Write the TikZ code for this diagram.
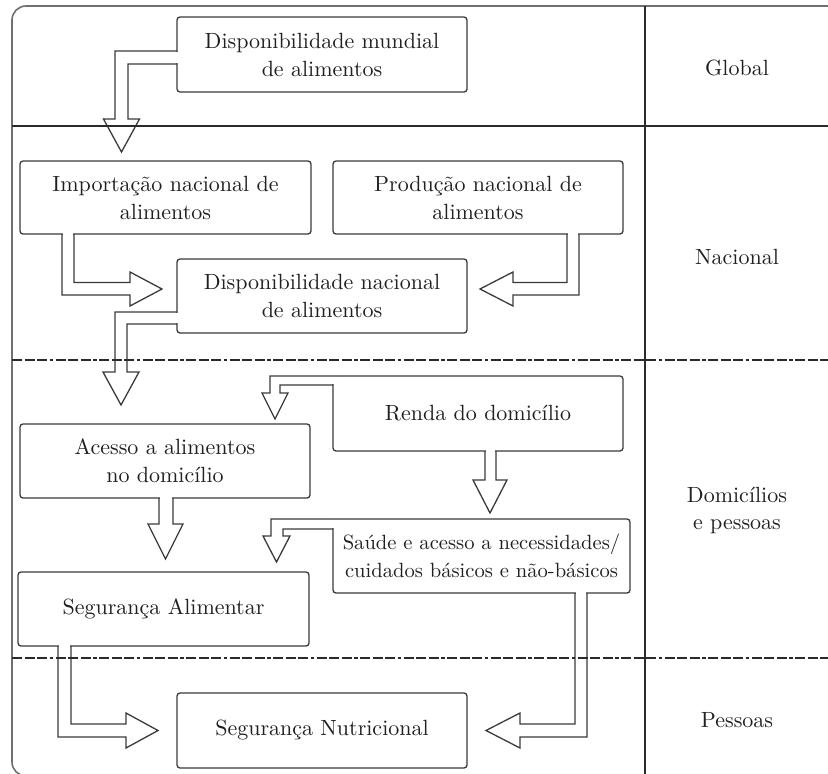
\documentclass[tikz,border=0pt]{standalone}
\usepackage{fontspec}
\setmainfont{lmroman10-regular.otf}
\usetikzlibrary{calc}
\definecolor{boxc}{HTML}{3A3A3A}
\definecolor{txt}{HTML}{202020}
\definecolor{linec}{HTML}{2A2A2A}
\definecolor{framec}{HTML}{707070}
\begin{document}
\begin{tikzpicture}[x=1pt,y=-1pt,
  box/.style={draw=boxc, line width=1.3pt, rounded corners=3pt, fill=white, inner sep=0pt, outer sep=0pt, align=center, text=txt, font=\fontsize{22}{28}\selectfont},
  lbl/.style={text=txt, align=center, font=\fontsize{22}{27}\selectfont},
  pipe/.style={draw=boxc, line width=1.3pt, line join=miter},
  gap/.style={draw=white, line width=2.6pt},
  sect/.style={draw=linec, line width=1.8pt},
  dd/.style={sect, dash pattern=on 10pt off 2.5pt on 10pt off 2.5pt on 10pt off 2.5pt on 3.5pt off 2.5pt}
]
\useasboundingbox (0,0) rectangle (828,774);

% boxes
\node[box, minimum width=290pt, minimum height=75pt] (mund) at (322,54.5) {Disponibilidade mundial\\de alimentos};
\node[box, minimum width=291pt, minimum height=73pt] (imp) at (165.5,197.5) {Importação nacional de\\alimentos};
\node[box, minimum width=290pt, minimum height=73pt] (prod) at (478,197.5) {Produção nacional de\\alimentos};
\node[box, minimum width=290pt, minimum height=74pt] (dnac) at (322,296) {Disponibilidade nacional\\de alimentos};
\node[box, minimum width=290pt, minimum height=75pt] (renda) at (478,413.5) {Renda do domicílio};
\node[box, minimum width=290pt, minimum height=74pt] (acesso) at (165,461) {Acesso a alimentos\\no domicílio};
\node[box, minimum width=297pt, minimum height=74pt, font=\fontsize{20.6}{28}\selectfont] (saude) at (481.5,556) {Saúde e acesso a necessidades/\\cuidados básicos e não-básicos};
\node[box, minimum width=291pt, minimum height=74pt] (sa) at (163.5,609) {Segurança Alimentar};
\node[box, minimum width=290pt, minimum height=75pt] (sn) at (322,730.5) {Segurança Nutricional};

% right labels
\node[lbl] (lglobal) at (737,68) {Global};
\node[lbl] (lnac) at (737,257) {Nacional};
\node[lbl] (ldom) at (737,510) {Domicílios\\e pessoas};
\node[lbl] (lpes) at (737,720) {Pessoas};

% A1 mund -> imp
\draw[gap] (177,52.3) -- (177,62.7);
\draw[pipe] (177,51) -- (115,51) -- (115,119) -- (103.5,119) -- (121.5,152) -- (139.5,119) -- (128,119) -- (128,64) -- (177,64);

% A2 imp -> dnac
\draw[gap] (63.3,234) -- (72.7,234);
\draw[pipe] (74,234) -- (74,282.5) -- (130,282.5) -- (130,272) -- (162,289) -- (130,306) -- (130,295) -- (62,295) -- (62,234);

% A3 prod -> dnac
\draw[gap] (568.3,234) -- (577.7,234);
\draw[pipe] (567,234) -- (567,282.5) -- (513,282.5) -- (513,272) -- (480,289) -- (513,306) -- (513,295) -- (579,295) -- (579,234);

% A4 dnac -> acesso
\draw[gap] (177,313.3) -- (177,322.7);
\draw[pipe] (177,312) -- (115,312) -- (115,372) -- (103,372) -- (121,405) -- (139,372) -- (127,372) -- (127,324) -- (177,324);

% A5 renda -> acesso
\fill[white] (331.5,374.8) rectangle (338.5,384.2);
\draw[pipe] (339,376) -- (270,376) -- (270,393) -- (262,393) -- (275,419) -- (288,393) -- (280,393) -- (280,385) -- (333,385);

% A6 renda -> saude
\draw[gap] (486.3,451) -- (494.7,451);
\draw[pipe] (485,451) -- (485,480) -- (473,480) -- (490,513) -- (507,480) -- (496,480) -- (496,451);

% A7 saude -> sa
\fill[white] (331.5,517.8) rectangle (338.5,528.2);
\draw[pipe] (339,519) -- (271,519) -- (271,536) -- (263,536) -- (276.5,562) -- (290,536) -- (283,536) -- (283,529) -- (333,529);

% A8 acesso -> sa
\draw[gap] (160.3,498) -- (171.7,498);
\draw[pipe] (159,498) -- (159,524) -- (148,524) -- (165.5,559) -- (183,524) -- (173,524) -- (173,498);

% A9 sa -> sn
\draw[gap] (59.3,646) -- (69.7,646);
\draw[pipe] (71,646) -- (71,724) -- (126,724) -- (126,713) -- (158,730.5) -- (126,748) -- (126,737) -- (58,737) -- (58,646);

% A10 saude -> sn
\draw[gap] (576.3,593) -- (585.7,593);
\draw[pipe] (575,593) -- (575,724) -- (520,724) -- (520,713) -- (486,730.5) -- (520,748) -- (520,737) -- (587,737) -- (587,593);

% frame and section lines
\draw[draw=framec, line width=1.6pt, rounded corners=14pt] (829,6) -- (12,6) -- (12,776) -- (829,776);
\draw[sect] (12,126) -- (828,126);
\draw[sect] (645,6) -- (645,774);
\draw[dd] (12,360) -- (828,360);
\draw[dd] (12,658) -- (828,658);
\end{tikzpicture}
\end{document}
